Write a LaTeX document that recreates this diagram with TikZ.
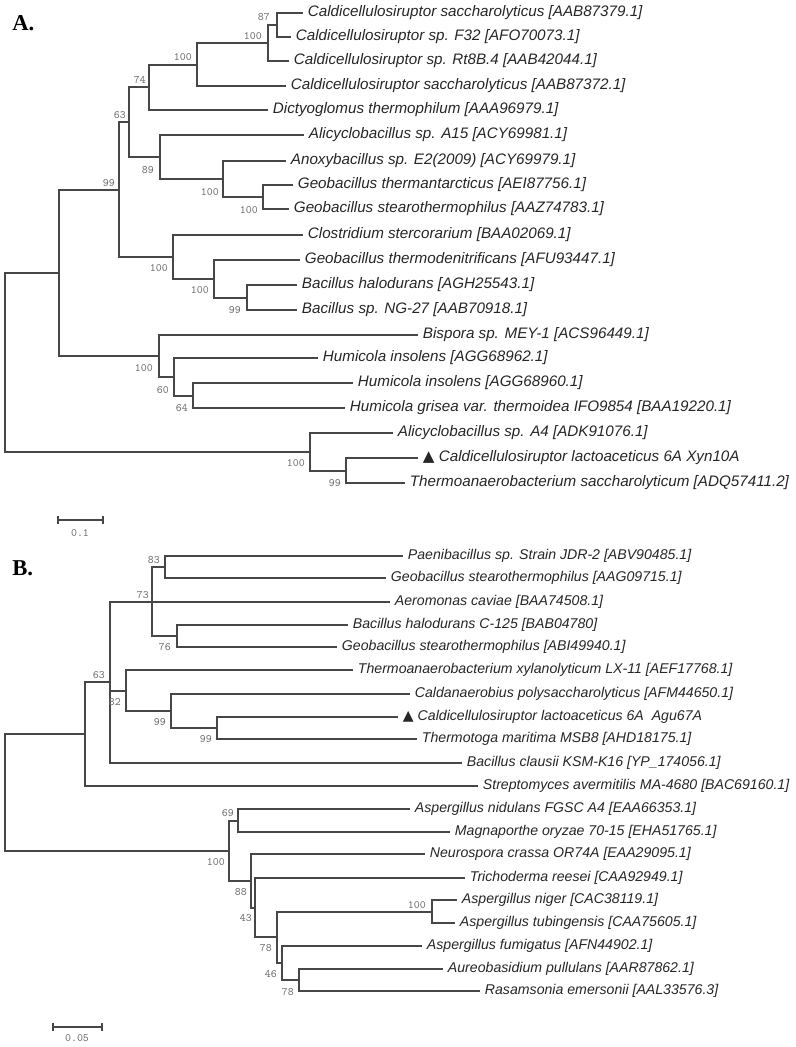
\documentclass[tikz,border=0pt]{standalone}
\usepackage{fontspec}
\setmainfont{Liberation Sans}
\newfontfamily\panelfont{Liberation Serif}
\newfontfamily\symfont{DejaVu Sans}
\usepackage{tikz}
\usetikzlibrary{arrows.meta}

\newcommand{\tri}{{\symfont\char"25B2}}

\begin{document}
\begin{tikzpicture}[x=0.75pt,y=-0.75pt,
    branch/.style={draw=black!72,line width=1.4pt},
    taxon/.style={anchor=west,inner xsep=3.5pt,inner ysep=0pt,text=black!85,
      font=\fontsize{11.4}{13}\selectfont\itshape,text height=0.75em,text depth=0.2em},
    taxonb/.style={taxon,font=\fontsize{10.6}{13}\selectfont\itshape},
    boot/.style={anchor=east,inner sep=0pt,text=black!55,font=\fontsize{8.5}{9}\selectfont\ttfamily},
    panel/.style={anchor=base west,inner sep=0pt,font=\fontsize{17}{19}\selectfont\panelfont\bfseries},
    scalebar/.style={draw=black!72,line width=1.2pt,{Bar[width=6pt]}-{Bar[width=6pt]}}]
\useasboundingbox (0,0) rectangle (796,1047);

% ---- A ----
\node[panel] (labA) at (12,30) {A.};

\node[taxon] (a1) at (303,13) {Caldicellulosiruptor saccharolyticus [AAB87379.1]};
\node[taxon] (a2) at (291,37) {Caldicellulosiruptor sp. F32 [AFO70073.1]};
\node[taxon] (a3) at (289,61) {Caldicellulosiruptor sp. Rt8B.4 [AAB42044.1]};
\node[taxon] (a4) at (286,86) {Caldicellulosiruptor saccharolyticus [AAB87372.1]};
\node[taxon] (a5) at (268,110) {Dictyoglomus thermophilum [AAA96979.1]};
\node[taxon] (a6) at (304,135) {Alicyclobacillus sp. A15 [ACY69981.1]};
\node[taxon] (a7) at (286,161) {Anoxybacillus sp. E2(2009) [ACY69979.1]};
\node[taxon] (a8) at (293,185) {Geobacillus thermantarcticus [AEI87756.1]};
\node[taxon] (a9) at (289,209) {Geobacillus stearothermophilus [AAZ74783.1]};
\node[taxon] (a10) at (303,235) {Clostridium stercorarium [BAA02069.1]};
\node[taxon] (a11) at (300,260) {Geobacillus thermodenitrificans [AFU93447.1]};
\node[taxon] (a12) at (297,285) {Bacillus halodurans [AGH25543.1]};
\node[taxon] (a13) at (297,310) {Bacillus sp. NG-27 [AAB70918.1]};
\node[taxon] (a14) at (418,335) {Bispora sp. MEY-1 [ACS96449.1]};
\node[taxon] (a15) at (318,358) {Humicola insolens [AGG68962.1]};
\node[taxon] (a16) at (353,383) {Humicola insolens [AGG68960.1]};
\node[taxon] (a17) at (345,408) {Humicola grisea var. thermoidea IFO9854 [BAA19220.1]};
\node[taxon] (a18) at (393,433) {Alicyclobacillus sp. A4 [ADK91076.1]};
\node[taxon] (a19) at (418,458) {\tri\ Caldicellulosiruptor lactoaceticus 6A Xyn10A};
\node[taxon] (a20) at (405,483) {Thermoanaerobacterium saccharolyticum [ADQ57411.2]};

\coordinate (nArt) at (5,362);
\coordinate (nAin) at (59,273);
\coordinate (nA99) at (119,190);
\coordinate (nA63) at (129,122);
\coordinate (nA74) at (149,87);
\coordinate (nA100b) at (197,65);
\coordinate (nA100a) at (268,43);
\coordinate (nA87) at (277,25);
\coordinate (nA89) at (160,157);
\coordinate (nA100c) at (223,179);
\coordinate (nA100d) at (263,197);
\coordinate (nA100e) at (173,257);
\coordinate (nA100f) at (214,279);
\coordinate (nA99b) at (247,298);
\coordinate (nA100g) at (159,356);
\coordinate (nA60) at (174,377);
\coordinate (nA64) at (193,396);
\coordinate (nA100h) at (310,452);
\coordinate (nA99c) at (346,471);

\foreach \p/\c in {nArt/nAin,nArt/nA100h,nAin/nA99,nAin/nA100g,
    nA99/nA63,nA99/nA100e,nA63/nA74,nA63/nA89,nA74/nA100b,nA74/a5,
    nA100b/nA100a,nA100b/a4,nA100a/nA87,nA100a/a3,nA87/a1,nA87/a2,
    nA89/a6,nA89/nA100c,nA100c/a7,nA100c/nA100d,nA100d/a8,nA100d/a9,
    nA100e/a10,nA100e/nA100f,nA100f/a11,nA100f/nA99b,nA99b/a12,nA99b/a13,
    nA100g/a14,nA100g/nA60,nA60/a15,nA60/nA64,nA64/a16,nA64/a17,
    nA100h/a18,nA100h/nA99c,nA99c/a19,nA99c/a20}
  \draw[branch] (\p) |- (\c);

\node[boot] (bA87) at (270,17) {87};
\node[boot] (bA100a) at (262,36) {100};
\node[boot] (bA100b) at (192,57) {100};
\node[boot] (bA74) at (146,80) {74};
\node[boot] (bA63) at (126,115) {63};
\node[boot] (bA99) at (115,183) {99};
\node[boot] (bA89) at (154,170) {89};
\node[boot] (bA100c) at (219,192) {100};
\node[boot] (bA100d) at (258,210) {100};
\node[boot] (bA100e) at (168,268) {100};
\node[boot] (bA100f) at (209,290) {100};
\node[boot] (bA99b) at (241,310) {99};
\node[boot] (bA100g) at (153,368) {100};
\node[boot] (bA60) at (169,390) {60};
\node[boot] (bA64) at (188,408) {64};
\node[boot] (bA100h) at (305,463) {100};
\node[boot] (bA99c) at (341,483) {99};

\coordinate (sA1) at (57,520);
\coordinate (sA2) at (104,520);
\draw[scalebar] (sA1) -- (sA2);
\node[boot,anchor=center] (sA) at (80,533) {0.1};

% ---- B ----
\node[panel] (labB) at (12,575) {B.};

\node[taxonb] (b1) at (403,556) {Paenibacillus sp. Strain JDR-2 [ABV90485.1]};
\node[taxonb] (b2) at (386,578) {Geobacillus stearothermophilus [AAG09715.1]};
\node[taxonb] (b3) at (390,602) {Aeromonas caviae [BAA74508.1]};
\node[taxonb] (b4) at (348,625) {Bacillus halodurans C-125 [BAB04780]};
\node[taxonb] (b5) at (337,647) {Geobacillus stearothermophilus [ABI49940.1]};
\node[taxonb] (b6) at (353,670) {Thermoanaerobacterium xylanolyticum LX-11 [AEF17768.1]};
\node[taxonb] (b7) at (410,694) {Caldanaerobius polysaccharolyticus [AFM44650.1]};
\node[taxonb] (b8) at (398,717) {\tri\ Caldicellulosiruptor lactoaceticus 6A\ \ Agu67A};
\node[taxonb] (b9) at (417,739) {Thermotoga maritima MSB8 [AHD18175.1]};
\node[taxonb] (b10) at (462,763) {Bacillus clausii KSM-K16 [YP\_174056.1]};
\node[taxonb] (b11) at (478,786) {Streptomyces avermitilis MA-4680 [BAC69160.1]};
\node[taxonb] (b12) at (410,809) {Aspergillus nidulans FGSC A4 [EAA66353.1]};
\node[taxonb] (b13) at (450,832) {Magnaporthe oryzae 70-15 [EHA51765.1]};
\node[taxonb] (b14) at (425,854) {Neurospora crassa OR74A [EAA29095.1]};
\node[taxonb] (b15) at (465,878) {Trichoderma reesei [CAA92949.1]};
\node[taxonb] (b16) at (457,900) {Aspergillus niger [CAC38119.1]};
\node[taxonb] (b17) at (455,923) {Aspergillus tubingensis [CAA75605.1]};
\node[taxonb] (b18) at (422,946) {Aspergillus fumigatus [AFN44902.1]};
\node[taxonb] (b19) at (443,969) {Aureobasidium pullulans [AAR87862.1]};
\node[taxonb] (b20) at (480,991) {Rasamsonia emersonii [AAL33576.3]};

\coordinate (nBrt) at (5,792);
\coordinate (nB63) at (85,734);
\coordinate (nBin) at (110,682);
\coordinate (nB73) at (152,602);
\coordinate (nB83) at (165,567);
\coordinate (nB76) at (177,636);
\coordinate (nB82) at (126,691);
\coordinate (nB99a) at (171,711);
\coordinate (nB99b) at (217,728);
\coordinate (nB100) at (229,851);
\coordinate (nB69) at (238,821);
\coordinate (nB88) at (251,881);
\coordinate (nB43) at (255,908);
\coordinate (nB78a) at (277,937);
\coordinate (nB100c) at (432,912);
\coordinate (nB46) at (282,963);
\coordinate (nB78b) at (299,980);

\foreach \p/\c in {nBrt/nB63,nBrt/nB100,nB63/nBin,nB63/b11,
    nBin/nB73,nBin/nB82,nBin/b10,nB73/nB83,nB73/b3,nB73/nB76,
    nB83/b1,nB83/b2,nB76/b4,nB76/b5,nB82/b6,nB82/nB99a,
    nB99a/b7,nB99a/nB99b,nB99b/b8,nB99b/b9,
    nB100/nB69,nB100/nB88,nB69/b12,nB69/b13,nB88/b14,nB88/nB43,
    nB43/b15,nB43/nB78a,nB78a/nB100c,nB78a/nB46,nB100c/b16,nB100c/b17,
    nB46/b18,nB46/nB78b,nB78b/b19,nB78b/b20}
  \draw[branch] (\p) |- (\c);

\node[boot] (bB83) at (160,560) {83};
\node[boot] (bB73) at (149,595) {73};
\node[boot] (bB76) at (171,647) {76};
\node[boot] (bB63) at (105,675) {63};
\node[boot] (bB82) at (121,702) {82};
\node[boot] (bB99a) at (166,722) {99};
\node[boot] (bB99b) at (212,739) {99};
\node[boot] (bB69) at (234,813) {69};
\node[boot] (bB100) at (225,862) {100};
\node[boot] (bB88) at (247,892) {88};
\node[boot] (bB43) at (252,918) {43};
\node[boot] (bB78a) at (272,948) {78};
\node[boot] (bB100c) at (426,905) {100};
\node[boot] (bB46) at (277,974) {46};
\node[boot] (bB78b) at (294,992) {78};

\coordinate (sB1) at (52,1027);
\coordinate (sB2) at (103,1027);
\draw[scalebar] (sB1) -- (sB2);
\node[boot,anchor=center] (sB) at (77,1038) {0.05};
\end{tikzpicture}
\end{document}
